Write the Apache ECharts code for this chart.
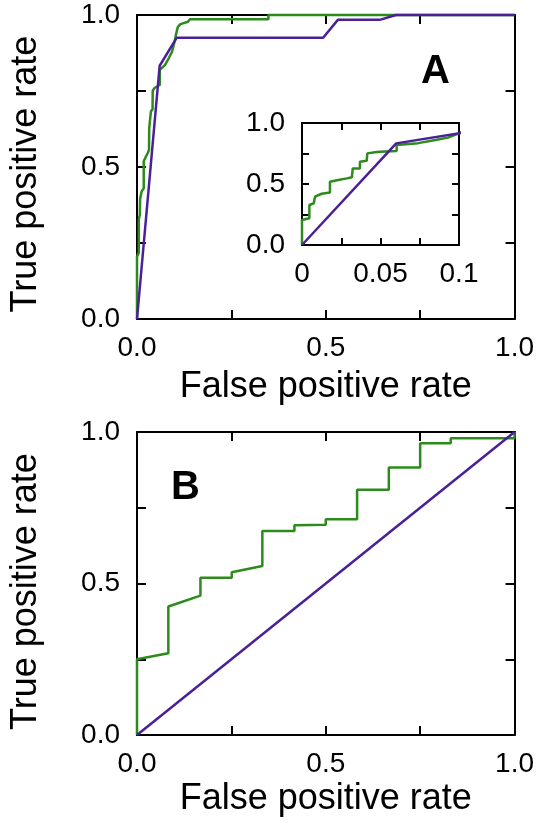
<!DOCTYPE html>
<html>
<head>
<meta charset="utf-8">
<script src="https://cdn.jsdelivr.net/npm/echarts@6/dist/echarts.min.js"></script>
<style>
html,body{margin:0;padding:0;background:#fff;}
#chart{width:537px;height:825px;}
</style>
</head>
<body>
<div id="chart"></div>
<script>
// ---- Data ----
// Panel A: green ROC curve (step-like), purple ROC curve
const greenA = [
  [0,0],[0,0.205],[0.0047,0.219],[0.0047,0.328],[0.0075,0.342],[0.0083,0.396],
  [0.0125,0.42],[0.0178,0.43],[0.0178,0.519],[0.0231,0.533],[0.0285,0.546],
  [0.0318,0.556],[0.0323,0.628],[0.0369,0.628],[0.0369,0.683],[0.0412,0.69],
  [0.0416,0.751],[0.0465,0.76],[0.0497,0.765],[0.0603,0.77],[0.0603,0.82],
  [0.074,0.835],[0.085,0.86],[0.093,0.88],[0.1,0.915],[0.104,0.94],
  [0.108,0.96],[0.115,0.97],[0.135,0.978],[0.14,0.986],[0.348,0.986],
  [0.348,1.0],[1,1]
];
const purpleA = [
  [0,0],[0.06,0.833],[0.105,0.925],[0.493,0.925],[0.532,0.984],
  [0.643,0.984],[0.686,1.0],[1,1]
];
// Panel B
const greenB = [
  [0,0],[0,0.25],[0.083,0.27],[0.083,0.424],[0.168,0.46],[0.168,0.519],
  [0.251,0.519],[0.251,0.537],[0.332,0.558],[0.332,0.673],[0.417,0.673],
  [0.417,0.692],[0.5,0.694],[0.5,0.712],[0.583,0.712],[0.583,0.809],
  [0.667,0.809],[0.667,0.883],[0.75,0.883],[0.75,0.963],[0.831,0.963],
  [0.831,0.979],[1,0.979],[1,1]
];
const purpleB = [[0,0],[1,1]];

// Tick labels
const mainTickValues = [0, 0.5, 1];
const mainTickText = ['0.0', '0.5', '1.0'];
const insetXTickValues = [0, 0.05, 0.1];
const insetXTickText = ['0', '0.05', '0.1'];
const insetYTickValues = [0, 0.5, 1];
const insetYTickText = ['0.0', '0.5', '1.0'];

const xTitle = 'False positive rate';
const yTitle = 'True positive rate';
const panelLabels = ['A', 'B'];

// ---- Style ----
const FONT = 'Liberation Sans, Arial, Helvetica, sans-serif';
const GREEN = '#2d8a1c';
const PURPLE = '#4a2099';

function fmt(values, texts) {
  return function (v) {
    for (let i = 0; i < values.length; i++) {
      if (Math.abs(v - values[i]) < 1e-9) return texts[i];
    }
    return '';
  };
}

function axis(type, gi, pos, min, max, interval, labels, tickLen, name, nameGap, namePad) {
  const a = {
    type: 'value', gridIndex: gi, position: pos, min: min, max: max, interval: interval,
    splitLine: { show: false },
    axisLine: { show: true, onZero: false, lineStyle: { color: '#000', width: 2 } },
    axisTick: { show: true, inside: true, length: tickLen, lineStyle: { color: '#000', width: 2 } },
    axisLabel: labels ? {
      show: true, formatter: labels, margin: type === 'x' ? 15 : 17,
      color: '#000', fontFamily: FONT, fontSize: 28,
      showMinLabel: true, showMaxLabel: true
    } : { show: false }
  };
  if (name) {
    a.name = name;
    a.nameLocation = 'middle';
    a.nameGap = nameGap;
    a.nameTextStyle = { color: '#000', fontFamily: FONT, fontSize: 36, padding: namePad || 0 };
  }
  return a;
}

const mainFmt = fmt(mainTickValues, mainTickText);

const option = {
  animation: false,
  backgroundColor: '#fff',
  grid: [
    { left: 126, top: 15, width: 390, height: 304 },
    { left: 302, top: 123, width: 157, height: 122, show: true, backgroundColor: '#fff', borderWidth: 0 },
    { left: 126, top: 432, width: 391, height: 303 }
  ],
  xAxis: [
    axis('x', 0, 'bottom', 0, 1, 0.25, mainFmt, 9, xTitle, 50),
    axis('x', 0, 'top', 0, 1, 0.25, null, 9),
    axis('x', 1, 'bottom', 0, 0.1, 0.025, fmt(insetXTickValues, insetXTickText), 7),
    axis('x', 1, 'top', 0, 0.1, 0.025, null, 7),
    axis('x', 2, 'bottom', 0, 1, 0.25, mainFmt, 9, xTitle, 46),
    axis('x', 2, 'top', 0, 1, 0.25, null, 9)
  ],
  yAxis: [
    axis('y', 0, 'left', 0, 1, 0.25, mainFmt, 9, yTitle, 93, [0, 14, 0, 0]),
    axis('y', 0, 'right', 0, 1, 0.25, null, 9),
    axis('y', 1, 'left', 0, 1, 0.25, fmt(insetYTickValues, insetYTickText), 7),
    axis('y', 1, 'right', 0, 1, 0.25, null, 7),
    axis('y', 2, 'left', 0, 1, 0.25, mainFmt, 9, yTitle, 93, [0, 16, 0, 0]),
    axis('y', 2, 'right', 0, 1, 0.25, null, 9)
  ],
  series: [
    { type: 'line', xAxisIndex: 0, yAxisIndex: 0, data: greenA, showSymbol: false, clip: false,
      lineStyle: { color: GREEN, width: 2.5 }, z: 3 },
    { type: 'line', xAxisIndex: 0, yAxisIndex: 0, data: purpleA, showSymbol: false, clip: false,
      lineStyle: { color: PURPLE, width: 2.5 }, z: 4 },
    { type: 'line', xAxisIndex: 2, yAxisIndex: 2, data: greenA, showSymbol: false, clip: true,
      lineStyle: { color: GREEN, width: 2.5 }, z: 3 },
    { type: 'line', xAxisIndex: 2, yAxisIndex: 2, data: purpleA, showSymbol: false, clip: true,
      lineStyle: { color: PURPLE, width: 2.5 }, z: 4 },
    { type: 'line', xAxisIndex: 4, yAxisIndex: 4, data: greenB, showSymbol: false, clip: false,
      lineStyle: { color: GREEN, width: 2.5 }, z: 3 },
    { type: 'line', xAxisIndex: 4, yAxisIndex: 4, data: purpleB, showSymbol: false, clip: false,
      lineStyle: { color: PURPLE, width: 2.5 }, z: 4 }
  ],
  graphic: [
    { type: 'text', left: 421, top: 52, style: { text: panelLabels[0], fill: '#000', font: 'bold 40px ' + FONT } },
    { type: 'text', left: 171, top: 468, style: { text: panelLabels[1], fill: '#000', font: 'bold 40px ' + FONT } }
  ]
};

const chart = echarts.init(document.getElementById('chart'), null, { renderer: 'canvas' });
chart.setOption(option);
</script>
</body>
</html>
